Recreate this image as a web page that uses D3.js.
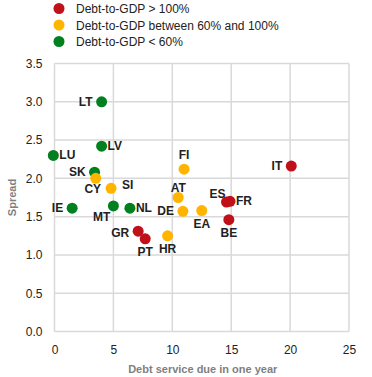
<!DOCTYPE html>
<html>
<head>
<meta charset="utf-8">
<script src="https://cdn.jsdelivr.net/npm/d3@7"></script>
<style>
  body { margin: 0; background: #fff; }
  text { font-family: "Liberation Sans", Arial, sans-serif; }
</style>
</head>
<body>
<svg id="chart" width="372" height="377"></svg>
<script>
// country codes, debt service (x), spread (y), debt group
const countries = ['LT', 'LV', 'LU', 'SK', 'CY', 'SI', 'IE', 'MT', 'NL', 'GR', 'PT', 'HR', 'DE', 'EA', 'AT', 'FI', 'IT', 'ES', 'FR', 'BE']
const debtService = [4.0, 4.0, -0.1, 3.4, 3.5, 4.8, 1.5, 5.0, 6.4, 7.1, 7.7, 9.6, 10.9, 12.5, 10.5, 11.0, 20.1, 14.6, 14.9, 14.8]
const spread = [3.0, 2.42, 2.30, 2.08, 2.0, 1.87, 1.61, 1.64, 1.61, 1.31, 1.21, 1.25, 1.57, 1.58, 1.75, 2.12, 2.16, 1.69, 1.70, 1.46]
const group = ['low', 'low', 'low', 'low', 'mid', 'mid', 'low', 'low', 'low', 'high', 'high', 'mid', 'mid', 'mid', 'mid', 'mid', 'high', 'high', 'high', 'high']
// label placement relative to the dot
const labelPos = ['left', 'right', 'right', 'left', 'under', 'rightfar', 'left', 'belowleft', 'right', 'leftlow', 'below', 'below', 'left', 'below', 'aboveclose', 'above', 'left', 'aboveleft', 'right', 'below']

const legendKeys = ['high', 'mid', 'low']
const legendLabels = ['Debt-to-GDP > 100%', 'Debt-to-GDP between 60% and 100%', 'Debt-to-GDP < 60%']
const xTicks = [0, 5, 10, 15, 20, 25]
const yTicks = [0, 0.5, 1, 1.5, 2, 2.5, 3, 3.5]

const color = d3.scaleOrdinal()
  .domain(legendKeys)
  .range(['#c0101a', '#ffb400', '#00801e'])

const margin = { top: 63.5, right: 23, bottom: 45.5, left: 54.5 }
const width = 372 - margin.left - margin.right
const height = 377 - margin.top - margin.bottom

const svg = d3.select('#chart')
const g = svg.append('g').attr('transform', `translate(${margin.left},${margin.top})`)

const x = d3.scaleLinear().domain([0, 25]).range([0, width])
const y = d3.scaleLinear().domain([0, 3.5]).range([height, 0])

// grid
g.selectAll('.vgrid').data(xTicks).enter().append('line')
  .attr('x1', d => x(d)).attr('x2', d => x(d))
  .attr('y1', 0).attr('y2', height)
  .attr('stroke', '#d9d9d9').attr('stroke-width', 1.5)
g.selectAll('.hgrid').data(yTicks).enter().append('line')
  .attr('x1', 0).attr('x2', width)
  .attr('y1', d => y(d)).attr('y2', d => y(d))
  .attr('stroke', '#d9d9d9').attr('stroke-width', 1.5)

// axes (labels only)
const xAxis = g.append('g').attr('transform', `translate(0,${height})`)
  .call(d3.axisBottom(x).tickValues(xTicks).tickSize(0).tickPadding(14).tickFormat(d3.format('d')))
const yAxis = g.append('g')
  .call(d3.axisLeft(y).tickValues(yTicks).tickSize(0).tickPadding(12).tickFormat(d3.format('.1f')))
for (const ax of [xAxis, yAxis]) {
  ax.select('.domain').remove()
  ax.selectAll('text').attr('font-size', 12).attr('fill', '#222')
    .style('font-family', '"Liberation Sans", Arial, sans-serif')
}

svg.append('text')
  .attr('x', margin.left + width / 2 + 1).attr('y', 373)
  .attr('text-anchor', 'middle').attr('font-size', 11).attr('font-weight', 'bold')
  .attr('fill', '#7f7f7f')
  .text('Debt service due in one year')
svg.append('text')
  .attr('transform', `translate(16,${margin.top + height / 2}) rotate(-90)`)
  .attr('text-anchor', 'middle').attr('font-size', 11).attr('font-weight', 'bold')
  .attr('fill', '#7f7f7f')
  .text('Spread')

// points
const data = countries.map((c, i) => ({ c, x: debtService[i], y: spread[i], grp: group[i], pos: labelPos[i] }))

g.selectAll('circle.pt').data(data).enter().append('circle')
  .attr('class', 'pt')
  .attr('cx', d => x(d.x)).attr('cy', d => y(d.y))
  .attr('r', 5.5)
  .attr('fill', d => color(d.grp))

const offsets = {
  left: [-9, 4, 'end'],
  leftlow: [-9, 6, 'end'],
  right: [6, 4, 'start'],
  rightfar: [11, 1, 'start'],
  above: [0, -10.5, 'middle'],
  aboveclose: [0, -6, 'middle'],
  below: [0, 17, 'middle'],
  under: [-3, 15, 'middle'],
  aboveleft: [-1, -4.5, 'end'],
  belowleft: [-3, 15, 'end']
}
g.selectAll('text.lbl').data(data).enter().append('text')
  .attr('class', 'lbl')
  .attr('x', d => x(d.x) + offsets[d.pos][0])
  .attr('y', d => y(d.y) + offsets[d.pos][1])
  .attr('text-anchor', d => offsets[d.pos][2])
  .attr('font-size', 12).attr('font-weight', 'bold').attr('fill', '#222')
  .text(d => d.c)

// legend
const legend = svg.append('g')
legend.selectAll('circle').data(legendKeys).enter().append('circle')
  .attr('cx', 59).attr('cy', (d, i) => 8.5 + i * 16.5)
  .attr('r', 5.5).attr('fill', d => color(d))
legend.selectAll('text').data(legendLabels).enter().append('text')
  .attr('x', 76).attr('y', (d, i) => 13 + i * 16.5)
  .attr('font-size', 12).attr('fill', '#222')
  .text(d => d)
</script>
</body>
</html>
